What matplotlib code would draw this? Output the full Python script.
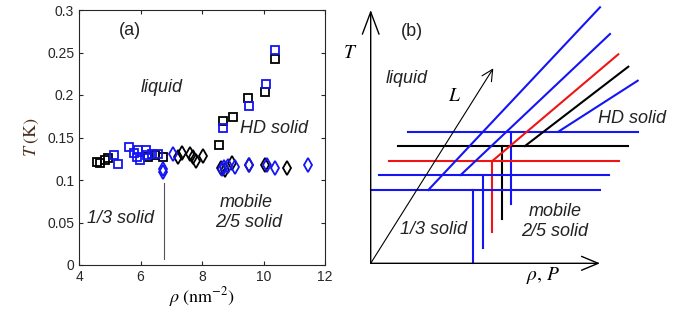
import matplotlib
matplotlib.use('Agg')
import matplotlib.pyplot as plt

plt.rcParams['font.family'] = ['Liberation Sans', 'DejaVu Sans']
plt.rcParams['mathtext.fontset'] = 'stix'

# panel (a) data
blk_sq_x = [4.58, 4.68, 4.85, 4.93, 6.23, 6.47, 6.74, 8.56, 8.69, 9.00, 9.50, 10.05, 10.36]
blk_sq_y = [0.1215, 0.1195, 0.1235, 0.1255, 0.127, 0.129, 0.1265, 0.141, 0.170, 0.1745, 0.196, 0.204, 0.242]
blu_sq_x = [5.15, 5.26, 5.64, 5.79, 5.88, 5.93, 5.98, 6.17, 6.20, 6.36, 6.56, 8.67, 9.53, 10.09, 10.39]
blu_sq_y = [0.129, 0.119, 0.1385, 0.132, 0.1275, 0.135, 0.1235, 0.135, 0.129, 0.131, 0.1305, 0.161, 0.187, 0.213, 0.253]
blk_dm_x = [7.22, 7.34, 7.61, 7.70, 7.80, 8.04, 8.62, 8.75, 8.96, 9.52, 10.05, 10.75]
blk_dm_y = [0.127, 0.1315, 0.1305, 0.1265, 0.1225, 0.128, 0.114, 0.1115, 0.1195, 0.1175, 0.1175, 0.1145]
blu_dm_x = [6.74, 6.74, 7.06, 8.64, 8.70, 8.86, 9.06, 9.54, 10.12, 10.37, 11.45]
blu_dm_y = [0.110, 0.1135, 0.1305, 0.1135, 0.1155, 0.116, 0.1155, 0.1175, 0.1175, 0.1145, 0.1175]
xticks_a = [4, 6, 8, 10, 12]
yticks_a = [0, 0.05, 0.1, 0.15, 0.2, 0.25, 0.3]
ytick_labels = ['0', '0.05', '0.1', '0.15', '0.2', '0.25', '0.3']
border_x = [6.75, 6.75]
border_y = [0.097, 0.007]

# panel (b) schematic, units relative to origin of the sketch
h_level = [131.6, 117.3, 102.3, 88.3, 73.3]
h_start = [37.6, 27.0, 18.3, 8.6, 0.0]
h_end = [267.0, 257.6, 248.3, 238.6, 229.3]
v_x = [140.3, 131.0, 121.6, 112.6, 102.6]
v_bottom = [59.3, 44.3, 31.0, 15.0, 0.0]
d_start_x = [187.6, 154.3, 121.6, 90.0, 57.6]
d_end_x = [267.0, 257.6, 247.6, 239.3, 229.3]
d_end_y = [182.6, 196.6, 209.0, 229.3, 256.0]
BLUE = '#1414f5'
line_colors = [BLUE, 'black', '#f01414', BLUE, BLUE]
L_tip = (122.6, 195.0)
axis_top = 253.3
axis_right = 229.3

fig = plt.figure(figsize=(6.91, 3.22), dpi=100)

ax = fig.add_axes([79 / 691, 57 / 322, 246 / 691, 255 / 322])
ax.plot(border_x, border_y, color='#555555', lw=0.8)
ax.plot(blk_sq_x, blk_sq_y, 's', mfc='none', mec='black', ms=5.3, mew=1.3)
ax.plot(blu_sq_x, blu_sq_y, 's', mfc='none', mec=BLUE, ms=5.3, mew=1.3)
ax.plot(blk_dm_x, blk_dm_y, 'd', mfc='none', mec='black', ms=6.8, mew=1.3)
ax.plot(blu_dm_x, blu_dm_y, 'd', mfc='none', mec=BLUE, ms=6.8, mew=1.3)
ax.set_xlim(4, 12)
ax.set_ylim(0, 0.3)
ax.set_xticks(xticks_a)
ax.set_yticks(yticks_a)
ax.set_yticklabels(ytick_labels)
ax.tick_params(direction='in', top=True, right=True, labelsize=10, length=3, color='#262626', labelcolor='#262626')
for s in ax.spines.values():
    s.set_color('#262626')
    s.set_linewidth(0.8)
ax.set_xlabel(r'$\rho\;\mathrm{(nm^{-2})}$', fontsize=13, labelpad=1)
ax.set_ylabel(r'$T\;\mathrm{(K)}$', fontsize=13, color='#4a3020', labelpad=4)
tk = dict(fontsize=13, color='#222222')
ax.text(5.66, 0.276, '(a)', ha='center', va='center', **tk)
ax.text(6.69, 0.209, 'liquid', ha='center', va='center', style='italic', **tk)
ax.text(10.35, 0.161, 'HD solid', ha='center', va='center', style='italic', **tk)
ax.text(5.36, 0.055, '1/3 solid', ha='center', va='center', style='italic', **tk)
ax.text(9.45, 0.073, 'mobile', ha='center', va='center', style='italic', **tk)
ax.text(9.5, 0.050, '2/5 solid', ha='center', va='center', style='italic', **tk)

bx = fig.add_axes([340 / 691, 0, 351 / 691, 1])
bx.set_xlim(-30.7, 320.3)
bx.set_ylim(-58.7, 263.3)
bx.axis('off')
for i in range(5):
    c = line_colors[i]
    bx.plot([h_start[i], h_end[i]], [h_level[i], h_level[i]], color=c, lw=1.5)
    bx.plot([v_x[i], v_x[i]], [h_level[i], v_bottom[i]], color=c, lw=1.5)
    bx.plot([d_start_x[i], d_end_x[i]], [h_level[i], d_end_y[i]], color=c, lw=1.5)
base = dict(color='black', lw=1.0, shrinkA=0, shrinkB=0)
bx.annotate('', xy=(0, axis_top), xytext=(0, 0),
            arrowprops=dict(base, arrowstyle='->,head_length=1.6,head_width=0.6'))
bx.annotate('', xy=(axis_right, 0), xytext=(0, 0),
            arrowprops=dict(base, arrowstyle='->,head_length=1.2,head_width=0.5'))
bx.annotate('', xy=L_tip, xytext=(0, 0),
            arrowprops=dict(base, lw=0.8, arrowstyle='->,head_length=0.8,head_width=0.4'))
bx.text(41, 231.6, '(b)', ha='center', va='center', **tk)
bx.text(-20.7, 210, r'$T$', ha='center', va='center', fontsize=14)
bx.text(36, 185, 'liquid', ha='center', va='center', style='italic', **tk)
bx.text(84.3, 166.6, r'$L$', ha='center', va='center', fontsize=14)
bx.text(261, 145.3, 'HD solid', ha='center', va='center', style='italic', **tk)
bx.text(184.3, 51.6, 'mobile', ha='center', va='center', style='italic', **tk)
bx.text(184.3, 31.6, '2/5 solid', ha='center', va='center', style='italic', **tk)
bx.text(62.6, 33.3, '1/3 solid', ha='center', va='center', style='italic', **tk)
bx.text(172.6, -11.7, r'$\rho,\,P$', ha='center', va='center', fontsize=14)

fig.savefig('out.png', dpi=100)
